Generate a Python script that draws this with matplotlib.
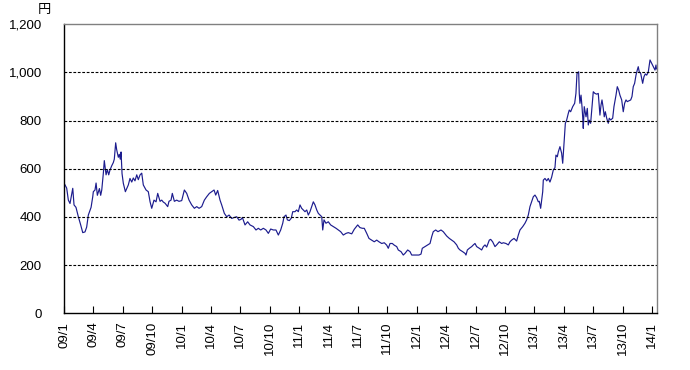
import matplotlib
matplotlib.use("Agg")
import matplotlib.pyplot as plt
import numpy as np

plt.rcParams['font.family'] = ['Liberation Sans', 'Noto Sans CJK JP', 'DejaVu Sans']

# 月内位置(月単位, 年初=0) と 株価(円)
m2009 = [0.00, 0.10, 0.27, 0.44, 0.61, 0.89, 1.02, 1.22, 1.46, 1.70, 1.91, 2.14, 2.31, 2.48,
         2.76, 2.93, 2.99, 3.16, 3.27, 3.40, 3.61, 3.74, 3.85, 4.01, 4.11, 4.29, 4.42, 4.56,
         4.69, 4.86, 5.03, 5.13, 5.27, 5.37, 5.54, 5.64, 5.74, 5.82, 5.92, 6.05, 6.26, 6.56,
         6.73, 6.91, 7.07, 7.24, 7.42, 7.58, 7.76, 7.93, 8.09, 8.37, 8.60, 8.78, 8.95, 9.18,
         9.39, 9.56, 9.80, 9.97, 10.13, 10.31, 10.58, 10.71, 10.92, 11.05, 11.26, 11.50, 11.73]
p2009 = [540, 533, 520, 470, 456, 519, 450, 440, 401, 367, 335, 338, 358, 408,
         440, 484, 505, 512, 541, 490, 518, 490, 512, 581, 634, 575, 597, 575,
         595, 612, 626, 640, 708, 680, 648, 660, 640, 670, 580, 540, 505, 533,
         560, 545, 562, 550, 575, 555, 575, 582, 533, 512, 505, 463, 436, 470,
         463, 498, 465, 470, 462, 457, 443, 465, 470, 498, 465, 470, 465]

m2010 = [0.01, 0.28, 0.52, 0.76, 1.03, 1.30, 1.54, 1.78, 2.05, 2.32, 2.56, 2.83, 3.07, 3.31,
         3.48, 3.68, 3.92, 4.09, 4.36, 4.60, 4.84, 5.11, 5.38, 5.62, 5.86, 6.06, 6.20, 6.47,
         6.74, 6.98, 7.32, 7.59, 7.83, 8.07, 8.34, 8.61, 8.85, 9.09, 9.36, 9.63, 9.87, 10.11,
         10.32, 10.45, 10.65, 10.79, 10.99, 11.19, 11.34, 11.57, 11.74, 11.91]
p2010 = [468, 512, 498, 470, 450, 436, 443, 436, 443, 470, 484, 498, 505, 512,
         491, 510, 470, 450, 415, 401, 408, 394, 398, 401, 387, 390, 398, 367,
         380, 367, 360, 346, 353, 346, 353, 346, 332, 350, 346, 346, 325, 346,
         374, 401, 408, 388, 385, 395, 422, 422, 429, 422]

m2011 = [0.08, 0.25, 0.42, 0.59, 0.77, 0.93, 1.10, 1.28, 1.44, 1.61, 1.79, 1.95, 2.12, 2.30,
         2.40, 2.53, 2.73, 2.97, 3.21, 3.48, 3.76, 3.99, 4.23, 4.50, 4.78, 5.01, 5.36, 5.62,
         5.97, 6.20, 6.44, 6.64, 6.89, 7.12, 7.40, 7.66, 7.91, 8.14, 8.42, 8.68, 8.93, 9.09,
         9.27, 9.50, 9.70, 9.95, 10.11, 10.39, 10.62, 10.80, 11.07, 11.31, 11.48, 11.74, 11.99]
p2011 = [450, 436, 429, 422, 429, 408, 422, 443, 463, 450, 429, 415, 408, 401,
         346, 388, 374, 380, 367, 360, 353, 346, 339, 325, 332, 335, 330, 349,
         367, 356, 353, 353, 332, 311, 304, 297, 304, 297, 290, 293, 283, 270,
         290, 290, 283, 277, 263, 256, 242, 249, 263, 256, 242, 242, 242]

m2012 = [0.22, 0.43, 0.56, 0.84, 1.11, 1.35, 1.52, 1.68, 1.93, 2.16, 2.47, 2.70, 2.88, 3.05,
         3.32, 3.56, 3.80, 4.07, 4.24, 4.41, 4.68, 4.92, 5.02, 5.16, 5.36, 5.60, 5.77, 5.94,
         6.11, 6.38, 6.62, 6.79, 6.96, 7.13, 7.40, 7.54, 7.74, 7.98, 8.15, 8.42, 8.66, 8.83,
         9.10, 9.34, 9.51, 9.68, 9.92, 10.19, 10.36, 10.53, 10.81, 11.04, 11.21, 11.38, 11.55,
         11.72, 11.89]
p2012 = [242, 246, 270, 277, 284, 290, 318, 339, 346, 339, 346, 339, 330, 321,
         311, 304, 297, 284, 270, 263, 256, 249, 242, 263, 270, 277, 284, 290,
         277, 270, 263, 277, 284, 275, 304, 307, 297, 277, 284, 297, 290, 293,
         290, 284, 297, 304, 311, 300, 325, 346, 360, 374, 388, 408, 443,
         463, 484]

m2013 = [0.06, 0.23, 0.40, 0.50, 0.64, 0.74, 0.85, 0.91, 1.08, 1.26, 1.42, 1.59, 1.76, 1.93,
         2.10, 2.20, 2.34, 2.44, 2.61, 2.78, 2.89, 3.02, 3.16, 3.29, 3.46, 3.56, 3.70, 3.91,
         4.11, 4.24, 4.35, 4.52, 4.58, 4.65, 4.76, 4.86, 4.93, 4.99, 5.09, 5.27, 5.40, 5.50,
         5.60, 5.74, 5.88, 6.01, 6.18, 6.36, 6.52, 6.69, 6.80, 6.90, 7.03, 7.13, 7.24, 7.38,
         7.54, 7.64, 7.79, 7.99, 8.12, 8.33, 8.46, 8.60, 8.73, 8.91, 9.07, 9.21, 9.35, 9.48,
         9.69, 9.83, 9.96, 10.09, 10.23, 10.37, 10.50, 10.60, 10.70, 10.85, 10.95, 11.05,
         11.18, 11.32, 11.46, 11.62, 11.80, 11.97]
p2013 = [491, 480, 463, 465, 436, 470, 505, 553, 560, 550, 560, 545, 565, 595,
         605, 657, 650, 670, 692, 665, 623, 705, 789, 802, 830, 844, 837, 858,
         872, 913, 996, 1003, 913, 872, 906, 858, 816, 768, 858, 816, 851, 782,
         802, 789, 858, 920, 913, 910, 913, 823, 865, 886, 851, 816, 837, 810,
         789, 810, 803, 810, 858, 906, 941, 927, 906, 886, 837, 872, 886, 879,
         883, 886, 900, 941, 955, 989, 1010, 1024, 1003, 996, 976, 955,
         982, 994, 989, 1001, 1052, 1038]

m2014 = [0.13, 0.31, 0.41, 0.46]
p2014 = [1024, 1010, 1031, 1015]

tick_labels = ['09/1', '09/4', '09/7', '09/10', '10/1', '10/4', '10/7', '10/10',
               '11/1', '11/4', '11/7', '11/10', '12/1', '12/4', '12/7', '12/10',
               '13/1', '13/4', '13/7', '13/10', '14/1']

years = [(2009, m2009, p2009), (2010, m2010, p2010), (2011, m2011, p2011),
         (2012, m2012, p2012), (2013, m2013, p2013), (2014, m2014, p2014)]
x = np.concatenate([(y - 2009) * 12 + np.array(m) for y, m, p in years])
price = np.concatenate([np.array(p) for y, m, p in years])

fig = plt.figure(figsize=(6.9, 3.7), dpi=100)
ax = fig.add_axes([0.0928, 0.1532, 0.8589, 0.7811])

ax.plot(x, price, color='#1c1c8e', linewidth=0.85)

ax.set_xlim(0, 60.48)
ax.set_ylim(0, 1200)
ax.set_yticks(np.arange(0, 1201, 200))
ax.set_yticklabels(['{:,}'.format(v) for v in range(0, 1201, 200)])
ax.set_xticks(np.arange(0, 61, 3))
ax.set_xticklabels(tick_labels, rotation=90)

for v in range(200, 1001, 200):
    ax.axhline(v, color='black', linewidth=0.8, linestyle=(0, (2.5, 1.5)))

ax.tick_params(axis='y', length=0, pad=16, labelsize=9.5)
ax.tick_params(axis='x', direction='in', length=5, width=0.8, pad=6, labelsize=9.5)

ax.spines['left'].set_color('black')
ax.spines['bottom'].set_color('black')
ax.spines['top'].set_color('#808080')
ax.spines['right'].set_color('#808080')
for s in ax.spines.values():
    s.set_linewidth(1.0)

fig.text(44 / 690, 1 - 13 / 370, '円', ha='center', va='baseline', fontsize=9.5)

fig.savefig('out.png', dpi=100)
